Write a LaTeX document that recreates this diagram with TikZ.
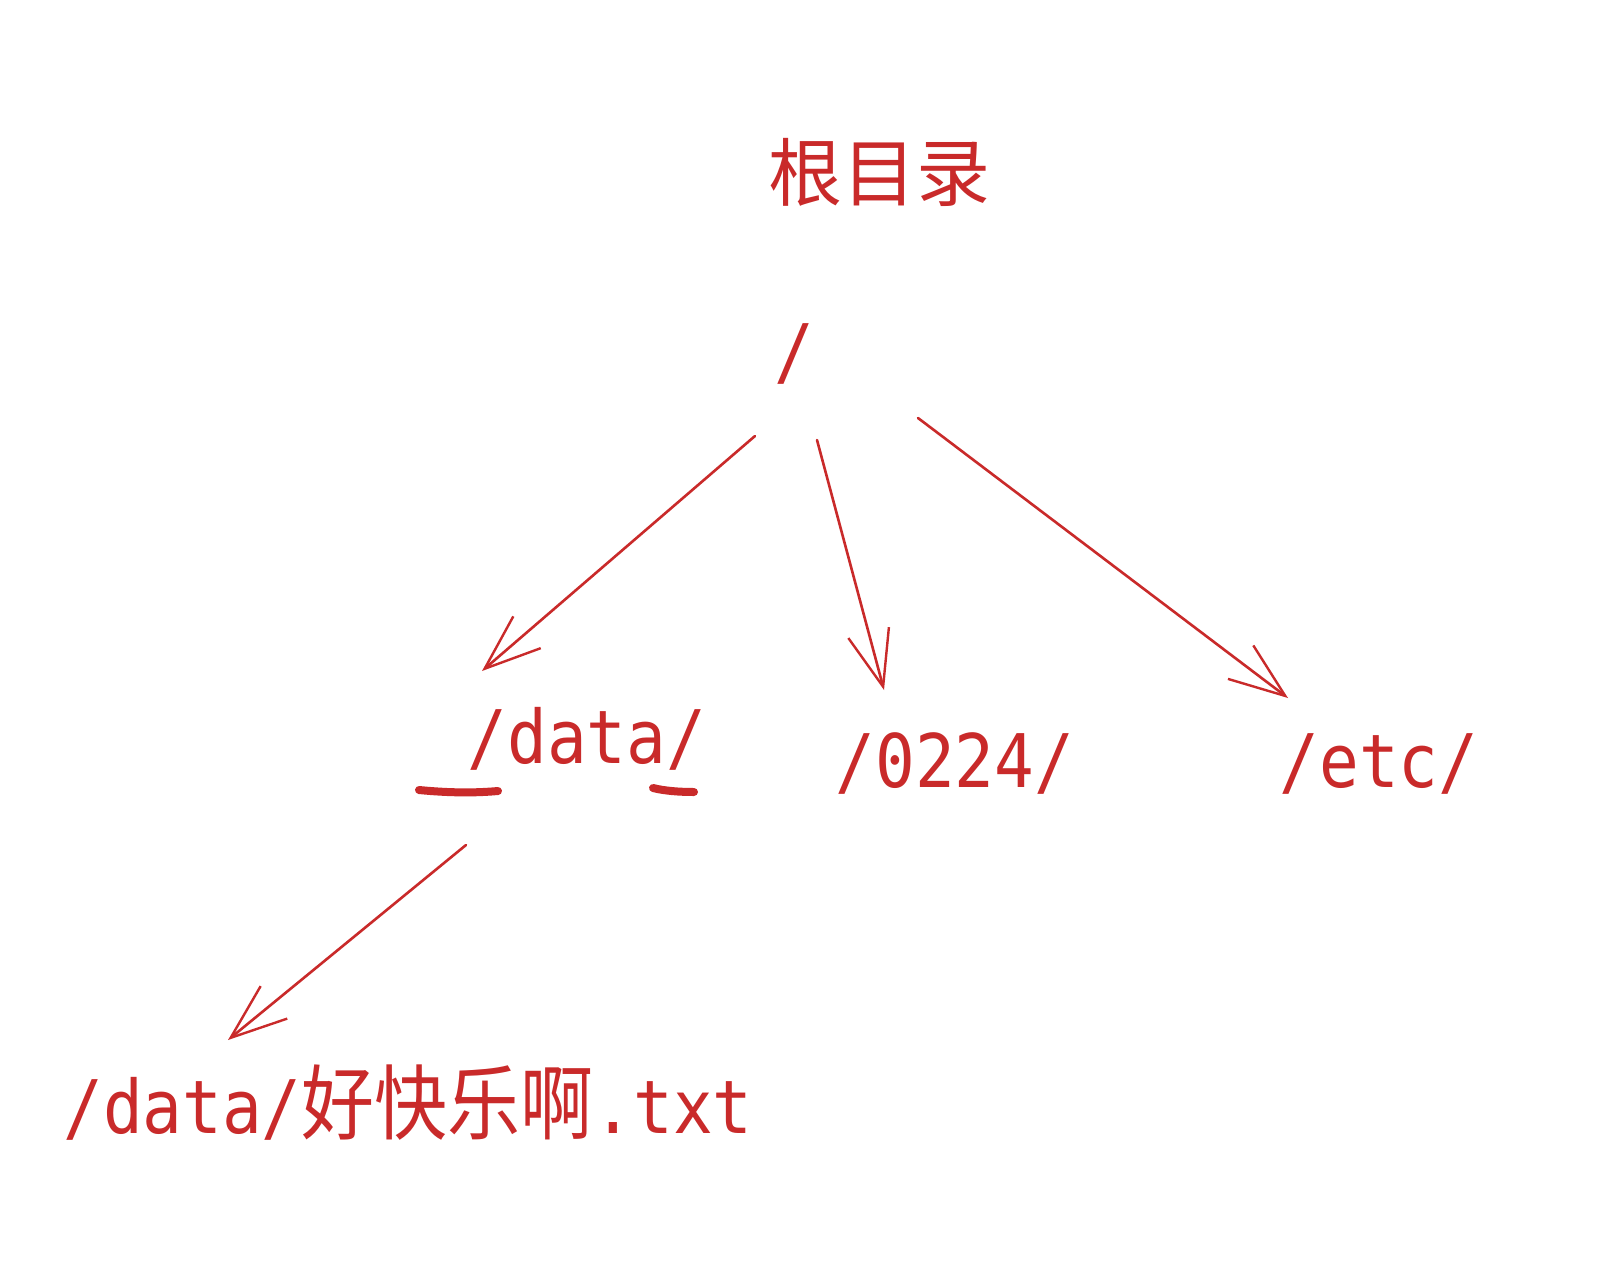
\documentclass[tikz,border=0pt]{standalone}
\usepackage{fontspec}
\setmonofont{DejaVu Sans Mono}
\newfontfamily\cjk{Noto Sans CJK SC}
\usetikzlibrary{arrows.meta}
\definecolor{exred}{HTML}{C92A2A}
\tikzset{
  lbl/.style={inner sep=0pt, outer sep=0pt, text=exred, font=\ttfamily\fontsize{66}{70}\selectfont, anchor=base},
  cjklbl/.style={inner sep=0pt, outer sep=0pt, text=exred, font=\cjk\fontsize{74}{80}\selectfont, anchor=base},
  link/.style={draw=exred, line width=2.6pt, line cap=round, -{Straight Barb[length=56pt,width=42pt,line width=2.4pt]}},
  underl/.style={draw=exred, line width=8pt, line cap=round}
}
\newcommand{\tl}[1]{\scalebox{1}[1.12]{#1}}
\begin{document}
\begin{tikzpicture}[x=1pt,y=-1pt]
\useasboundingbox[fill=white] (0,0) rectangle (1601,1264);
\node[cjklbl] (root) at (879,200) {根目录};
\node[lbl] (slash) at (794,377) {\tl{/}};
\node[lbl] (data) at (587,763) {\tl{/data/}};
\node[lbl] (d0224) at (955,787) {\tl{/0224/}};
\node[lbl] (etc) at (1379,787) {\tl{/etc/}};
\node[lbl] (file) at (408,1133) {\tl{/data/{\cjk\fontsize{73}{73}\selectfont 好快乐啊}.txt}};
% arrow end points
\coordinate (s1) at (755,436); \coordinate (e1) at (482,671);
\coordinate (s2) at (817,440); \coordinate (e2) at (884,690);
\coordinate (s3) at (918,418); \coordinate (e3) at (1288,698);
\coordinate (s4) at (466,845); \coordinate (e4) at (228,1040);
\draw[link] (s1) -- (e1);
\draw[link] (s2) -- (e2);
\draw[link] (s3) -- (e3);
\draw[link] (s4) -- (e4);
% hand-drawn underline marks
\coordinate (u1a) at (419,790); \coordinate (u1b) at (498,791);
\coordinate (u2a) at (653,788); \coordinate (u2b) at (694,792);
\draw[underl] (u1a) .. controls (450,793) and (475,793) .. (u1b);
\draw[underl] (u2a) .. controls (665,791) and (680,792) .. (u2b);
\end{tikzpicture}
\end{document}
